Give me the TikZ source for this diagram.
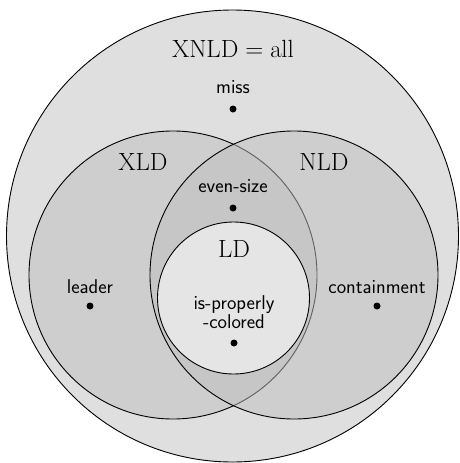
\documentclass[tikz,border=0pt]{standalone}
\begin{document}
\begin{tikzpicture}[x=1pt,y=-1pt,
  setline/.style={draw=black, line width=0.9pt},
  setfill/.style={setline, fill=gray!50, fill opacity=0.5},
  dotpt/.style={circle, fill=black, inner sep=0pt, minimum size=7pt},
  mathlbl/.style={font=\fontsize{24}{28}\selectfont, anchor=base, inner sep=0pt},
  sflbl/.style={font=\sffamily\fontsize{20}{16}\selectfont, anchor=base, align=center, inner sep=0pt}]
\useasboundingbox (0,0) rectangle (460,463);
% sets
\draw[setline, fill=gray!25] (232.5,236) circle [radius=226pt];
\draw[setfill] (173,275) circle [radius=144pt];
\draw[setfill] (294,275) circle [radius=144pt];
\draw[setline, fill=gray!20] (233.5,298) circle [radius=76pt];
% set labels
\node[mathlbl] (xnld) at (233,57) {$\mathrm{XNLD} = \mathrm{all}$};
\node[mathlbl] (xld) at (143,170) {$\mathrm{XLD}$};
\node[mathlbl] (nld) at (324,170) {$\mathrm{NLD}$};
\node[mathlbl] (ld) at (234,257) {$\mathrm{LD}$};
% problems
\node[sflbl] (miss) at (233,93) {miss};
\node[dotpt] (missdot) at (233,109) {};
\node[sflbl] (even) at (233,192) {even-size};
\node[dotpt] (evendot) at (233,208) {};
\node[sflbl] (leader) at (90,293) {leader};
\node[dotpt] (leaderdot) at (90,306) {};
\node[sflbl] (cont) at (377,293) {containment};
\node[dotpt] (contdot) at (377,306) {};
\node[sflbl] (proper) at (234,328) {is-properly\\-colored};
\node[dotpt] (properdot) at (234,343) {};
\end{tikzpicture}
\end{document}
